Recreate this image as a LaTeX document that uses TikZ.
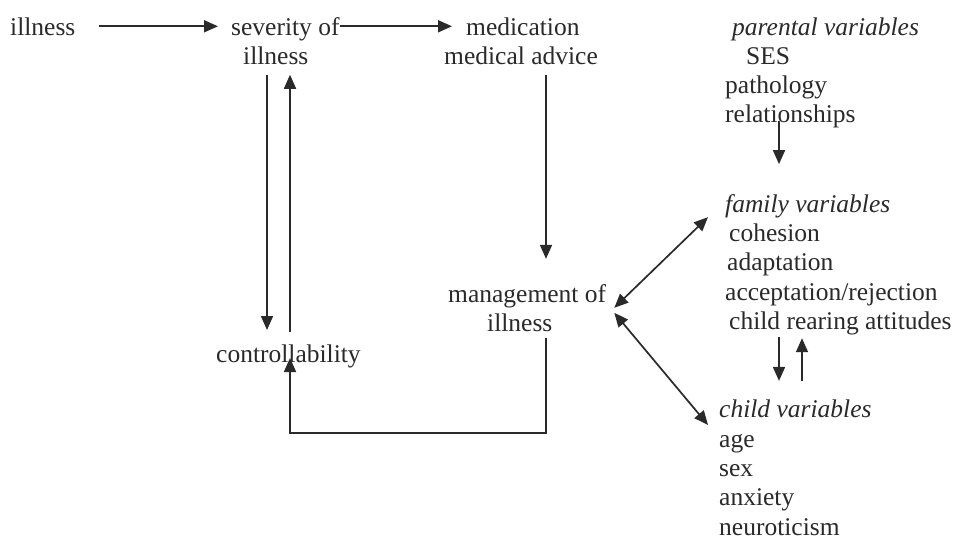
\documentclass[tikz,border=0pt]{standalone}
\usepackage{fontspec}
\setmainfont{Liberation Serif}
\usetikzlibrary{arrows.meta,calc}
\definecolor{ink}{HTML}{2A2A2A}
\begin{document}
\begin{tikzpicture}[x=1pt,y=-1pt,
  txt/.style={inner sep=0pt, text=ink, font=\fontsize{25.5}{29.3}\selectfont},
  arr/.style={draw=ink, line width=1.7pt, -{Triangle[length=14pt,width=12pt]}},
  dbl/.style={draw=ink, line width=1.7pt, {Triangle[length=14pt,width=12pt]}-{Triangle[length=14pt,width=12pt]}}]
\useasboundingbox[fill=white] (0,0) rectangle (956,539);

% anchor base west = baseline of the LAST line of a node
\node[txt, anchor=base west] (ill) at (10,35) {illness};
\node[txt, anchor=base west, align=left] (sev) at (231,64.3) {severity of\\\hspace*{12pt}illness};
\node[txt, anchor=base west, align=left] (med) at (444,64.3) {\hspace*{22pt}medication\\medical advice};
\node[txt, anchor=base west, align=left] (par) at (725,122.9) {\hspace*{7pt}\textit{parental variables}\\\hspace*{21pt}SES\\pathology\\relationships};
\node[txt, anchor=base west, align=left] (fam) at (725,329.5) {\textit{family variables}\\\hspace*{4pt}cohesion\\\hspace*{2pt}adaptation\\acceptation/rejection\\\hspace*{4pt}child rearing attitudes};
\node[txt, anchor=base west, align=left] (mgmt) at (448,331.3) {management of\\\hspace*{39pt}illness};
\node[txt, anchor=base west] (ctrl) at (216,362) {controllability};
\node[txt, anchor=base west, align=left] (chi) at (719,535) {\textit{child variables}\\age\\sex\\anxiety\\neuroticism};

\coordinate (xA) at (267,0);
\coordinate (xB) at (290,0);
\coordinate (xC) at (546,0);
\coordinate (xD) at (779,0);
\coordinate (xE) at (802,0);

\draw[arr] ([xshift=23pt]ill.east) -- ($(sev.west |- ill.east)+(-13,0)$);
\draw[arr] (sev.east |- ill.east) -- ($(med.west |- ill.east)+(8,0)$);
\draw[arr] ($(xA |- sev.south)+(0,10)$) -- ($(xA |- ctrl.base)+(0,-32)$);
\draw[arr] ($(xB |- ctrl.base)+(0,-30)$) -- ($(xB |- sev.south)+(0,10)$);
\draw[arr] ($(xC |- med.south)+(0,10)$) -- ($(xC |- mgmt.north)+(0,-25)$);
\draw[arr] ($(xC |- mgmt.south)+(0,6)$) -- ($(xC |- mgmt.south)+(0,101)$) -| ($(xB |- ctrl.base)+(0,-4)$);
\draw[arr] ($(xD |- par.south)+(0,-8)$) -- ($(xD |- fam.north)+(0,-30)$);
\draw[arr] ($(xD |- fam.south)+(0,2)$) -- ($(xD |- chi.north)+(0,-19)$);
\draw[arr] ($(xE |- chi.north)+(0,-19)$) -- ($(xE |- fam.south)+(0,3)$);
\draw[dbl] ($(mgmt.east)+(8,0)$) -- ($(fam.north west)+(-17,23)$);
\draw[dbl] ($(mgmt.east)+(8,5)$) -- ($(chi.north west)+(-11,25)$);
\end{tikzpicture}
\end{document}
